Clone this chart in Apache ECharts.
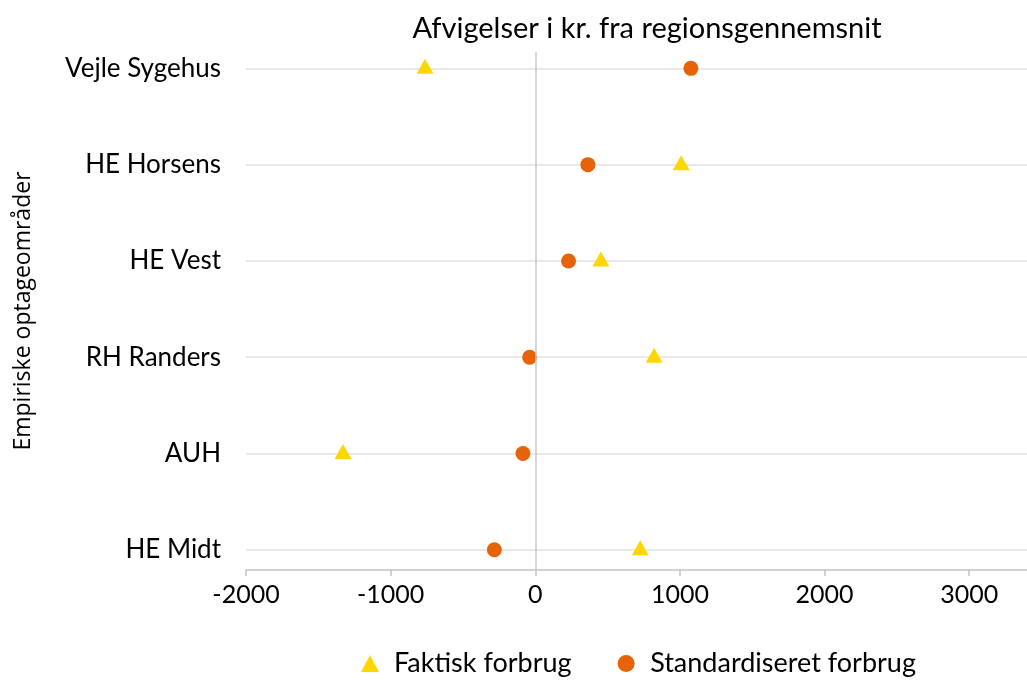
<!DOCTYPE html>
<html>
<head>
<meta charset="utf-8">
<script src="https://cdn.jsdelivr.net/npm/echarts@6/dist/echarts.min.js"></script>
<style>
  html, body { margin: 0; padding: 0; background: #fff; }
  #grafico { width: 1027px; height: 684px; }
</style>
</head>
<body>
<div id="grafico"></div>
<script>
// kategorier nedefra og op
const omraader = ["HE Midt", "AUH", "RH Randers", "HE Vest", "HE Horsens", "Vejle Sygehus"];
const faktisk = [726, -1329, 822, 454, 1009, -762];
const standardiseret = [-283, -85, -39, 230, 364, 1076];
const xTicks = [-2000, -1000, 0, 1000, 2000, 3000];

const font = "Lato, 'Open Sans', sans-serif";
const gul = "#FFD700";
const orange = "#E66308";

const pos = omraader.map((_, i) => i + 1);

const chart = echarts.init(document.getElementById("grafico"));

chart.setOption({
    animation: false,
    textStyle: { fontFamily: font },
    title: {
        text: "Afvigelser i kr. fra regionsgennemsnit",
        left: 642,
        textAlign: "center",
        top: 9,
        textStyle: { fontFamily: font, fontSize: 29, fontWeight: "normal", color: "#000" }
    },
    legend: {
        bottom: 2,
        left: 356,
        itemGap: 46,
        itemWidth: 18,
        itemHeight: 17,
        textStyle: { fontFamily: font, fontSize: 27, color: "#000", padding: [0, 0, 0, 10] },
        data: [
            { name: "Faktisk forbrug", icon: "triangle" },
            { name: "Standardiseret forbrug", icon: "circle" }
        ]
    },
    grid: { left: 246, right: 0, top: 52, bottom: 114 },
    xAxis: {
        type: "value",
        min: -2000,
        max: 3400,
        interval: 1000,
        axisLine: { show: true, lineStyle: { color: "#c4c4c4", width: 1.5 } },
        axisTick: { show: true, length: 6, lineStyle: { color: "#c4c4c4", width: 1.5 } },
        splitLine: { show: false },
        axisLabel: {
            showMaxLabel: false,
            margin: 12,
            fontFamily: font,
            fontSize: 25,
            color: "#000",
            formatter: v => xTicks.includes(v) ? String(v) : ""
        }
    },
    yAxis: {
        type: "value",
        min: 0.79,
        max: 6.17,
        name: "Empiriske optageområder",
        nameLocation: "middle",
        nameGap: 211,
        nameTextStyle: { fontFamily: "'Open Sans', sans-serif", fontSize: 23, color: "#000" },
        axisLine: { show: false },
        axisTick: { show: false, customValues: pos },
        axisLabel: {
            customValues: pos,
            margin: 25,
            fontFamily: font,
            fontSize: 26,
            color: "#000",
            formatter: v => omraader[Math.round(v) - 1] || ""
        },
        splitLine: { show: true, lineStyle: { color: "#e2e2e2", width: 1.5 } }
    },
    series: [
        {
            name: "Faktisk forbrug",
            type: "scatter",
            symbol: "triangle",
            symbolSize: [17, 15],
            symbolOffset: [0, -2],
            itemStyle: { color: gul, opacity: 1 },
            data: faktisk.map((v, i) => [v, pos[i]]),
            z: 3
        },
        {
            name: "Standardiseret forbrug",
            type: "scatter",
            symbol: "circle",
            symbolSize: 15,
            itemStyle: { color: orange, opacity: 1 },
            data: standardiseret.map((v, i) => [v, pos[i]]),
            markLine: {
                silent: true,
                symbol: "none",
                label: { show: false },
                lineStyle: { color: "#c8c8c8", type: "solid", width: 1.5 },
                data: [{ xAxis: 0 }]
            },
            z: 3
        }
    ]
});
</script>
</body>
</html>
